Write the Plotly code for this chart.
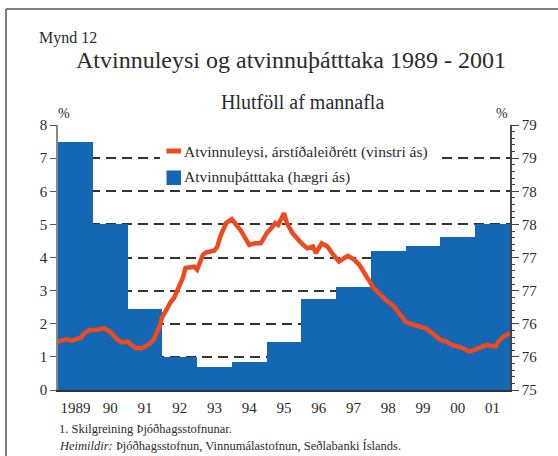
import plotly.graph_objects as go

# ---------------- data ----------------
bar_years = [1989, 1990, 1991, 1992, 1993, 1994, 1995, 1996, 1997, 1998, 1999, 2000, 2001]
participation = [78.74, 77.50, 76.23, 75.50, 75.35, 75.43, 75.72, 76.37, 76.56, 77.10, 77.18, 77.31, 77.50]
year_labels = ["1989", "90", "91", "92", "93", "94", "95", "96", "97", "98", "99", "00", "01"]

line_dates = ["1989-01", "1989-04", "1989-06", "1989-09", "1989-10", "1989-12", "1990-02", "1990-05",
              "1990-07", "1990-09", "1990-11", "1991-01", "1991-04", "1991-06", "1991-08", "1991-10",
              "1991-12", "1992-01", "1992-04", "1992-05", "1992-07", "1992-08", "1992-09", "1992-12",
              "1993-01", "1993-03", "1993-04", "1993-07", "1993-08", "1993-09", "1993-11", "1994-01",
              "1994-03", "1994-04", "1994-07", "1994-09", "1994-11", "1995-01", "1995-03", "1995-04",
              "1995-05", "1995-07", "1995-08", "1995-10", "1996-01", "1996-03", "1996-05", "1996-06",
              "1996-08", "1996-10", "1996-12", "1997-02", "1997-05", "1997-07", "1997-09", "1997-10",
              "1997-12", "1998-02", "1998-05", "1998-06", "1998-09", "1998-11", "1999-01", "1999-04",
              "1999-07", "1999-08", "1999-11", "2000-01", "2000-03", "2000-05", "2000-08", "2000-11",
              "2000-12", "2001-02", "2001-04", "2001-05", "2001-08", "2001-09", "2001-11", "2002-01"]
unemployment = [1.46, 1.53, 1.49, 1.59, 1.71, 1.81, 1.81, 1.86,
                1.76, 1.56, 1.43, 1.46, 1.26, 1.26, 1.36, 1.51,
                1.91, 2.21, 2.67, 2.77, 3.17, 3.37, 3.68, 3.72,
                3.63, 4.08, 4.15, 4.21, 4.33, 4.63, 5.04, 5.16,
                4.93, 4.83, 4.38, 4.43, 4.43, 4.73, 4.93, 5.04,
                4.98, 5.34, 5.04, 4.73, 4.43, 4.28, 4.33, 4.13,
                4.43, 4.33, 4.08, 3.88, 4.05, 3.95, 3.78, 3.63,
                3.32, 3.07, 2.82, 2.72, 2.52, 2.27, 2.06, 1.96,
                1.91, 1.86, 1.66, 1.51, 1.46, 1.36, 1.29, 1.16,
                1.19, 1.26, 1.31, 1.36, 1.31, 1.46, 1.63, 1.71]

left_ticks = [0, 1, 2, 3, 4, 5, 6, 7, 8]
right_ticks = [75, 75.5, 76, 76.5, 77, 77.5, 78, 78.5, 79]
right_labels = ["75", "76", "76", "77", "77", "78", "78", "79", "79"]

legend_line = "Atvinnuleysi, árstíðaleiðrétt (vinstri ás)"
legend_bar = "Atvinnuþátttaka (hægri ás)"

# ---------------- layout helpers ----------------
W, H = 558, 456
L, R, T, B = 58, 48, 125, 66
PW, PH = W - L - R, H - T - B


def xp(px):
    return (px - L) / PW


def yp(py):
    return (H - B - py) / PH


FONT = "Liberation Serif"
TXT = "#2b2b2b"
BLUE = "#1467b3"
RED = "#ee4a22"

bar_x = [y + 0.5 for y in bar_years]
line_x = [int(d[:4]) + (int(d[5:7]) - 1) / 12 for d in line_dates]

fig = go.Figure()
fig.add_trace(go.Bar(x=bar_x, y=participation, width=1.0, marker=dict(color=BLUE, line=dict(width=0)),
                     name=legend_bar, yaxis="y", showlegend=False))
fig.add_trace(go.Scatter(x=line_x, y=unemployment, mode="lines", line=dict(color=RED, width=4.5),
                         name=legend_line, yaxis="y2", showlegend=False, cliponaxis=False))

fig.update_layout(
    width=W, height=H,
    margin=dict(l=L, r=R, t=T, b=B),
    paper_bgcolor="white", plot_bgcolor="white",
    font=dict(family=FONT, color=TXT, size=15),
    bargap=0,
    xaxis=dict(range=[1989, 2002], tickmode="array", tickvals=bar_x, ticktext=year_labels,
               showgrid=False, zeroline=False, showline=True, linecolor="#333", linewidth=1.5,
               ticks="outside", ticklen=3, tickcolor="rgba(0,0,0,0)",
               tickfont=dict(size=15, family=FONT, color=TXT)),
    yaxis=dict(side="right", range=[75, 79], tickmode="array", tickvals=right_ticks, ticktext=right_labels,
               showgrid=True, gridcolor="#333", gridwidth=1.5, griddash="10px,6px",
               zeroline=False, showline=True, linecolor="#444", linewidth=1.5,
               ticks="outside", ticklen=7, tickwidth=1.2, tickcolor="#444",
               minor=dict(tickmode="linear", tick0=75, dtick=0.1, ticks="outside", ticklen=3,
                          tickcolor="#444", showgrid=False),
               tickfont=dict(size=15, family=FONT, color=TXT)),
    yaxis2=dict(side="left", overlaying="y", range=[0, 8], tickmode="array", tickvals=left_ticks,
                showgrid=False, zeroline=False, showline=True, linecolor="#888", linewidth=1.5,
                ticks="outside", ticklen=6, tickwidth=1.2, tickcolor="#555",
                tickfont=dict(size=15, family=FONT, color=TXT)),
)

shapes = [
    # frame lines (top and left)
    dict(type="line", xref="paper", yref="paper", x0=xp(6), x1=xp(W + 5), y0=yp(9), y1=yp(9),
         line=dict(color="#555", width=1.5)),
    dict(type="line", xref="paper", yref="paper", x0=xp(6), x1=xp(6), y0=yp(9), y1=yp(H + 5),
         line=dict(color="#555", width=1.5)),
    # legend background
    dict(type="rect", xref="paper", yref="paper", x0=xp(160), x1=xp(441), y0=yp(188), y1=yp(136),
         fillcolor="white", line=dict(width=0), layer="above"),
    # legend swatches
    dict(type="rect", xref="paper", yref="paper", x0=xp(166.5), x1=xp(181), y0=yp(153.5), y1=yp(148.5),
         fillcolor=RED, line=dict(width=0), layer="above"),
    dict(type="rect", xref="paper", yref="paper", x0=xp(166.5), x1=xp(181), y0=yp(185), y1=yp(170.5),
         fillcolor=BLUE, line=dict(width=0), layer="above"),
]

ann = [
    dict(text="Mynd 12", x=xp(37), y=yp(38), xanchor="left", yanchor="middle", font=dict(size=16)),
    dict(text="Atvinnuleysi og atvinnuþátttaka 1989 - 2001", x=xp(291), y=yp(60), xanchor="center",
         yanchor="middle", font=dict(size=24)),
    dict(text="Hlutföll af mannafla", x=xp(302), y=yp(102), xanchor="center", yanchor="middle",
         font=dict(size=20)),
    dict(text="%", x=xp(64), y=yp(113), xanchor="center", yanchor="middle", font=dict(size=14)),
    dict(text="%", x=xp(502), y=yp(113), xanchor="center", yanchor="middle", font=dict(size=14)),
    dict(text=legend_line, x=xp(182), y=yp(152), xanchor="left", yanchor="middle", font=dict(size=15.5)),
    dict(text=legend_bar, x=xp(182), y=yp(177), xanchor="left", yanchor="middle", font=dict(size=15.5)),
    dict(text="1. Skilgreining Þjóðhagsstofnunar.", x=xp(57), y=yp(429), xanchor="left",
         yanchor="middle", font=dict(size=12.5)),
    dict(text="<i>Heimildir:</i> Þjóðhagsstofnun, Vinnumálastofnun, Seðlabanki Íslands.", x=xp(57),
         y=yp(446), xanchor="left", yanchor="middle", font=dict(size=12.5)),
]
for a in ann:
    a.update(xref="paper", yref="paper", showarrow=False)

fig.update_layout(shapes=shapes, annotations=ann)
fig.write_html("out.html", config={"displayModeBar": False},
               post_script="document.body.style.margin='0';document.body.style.overflow='hidden';")
